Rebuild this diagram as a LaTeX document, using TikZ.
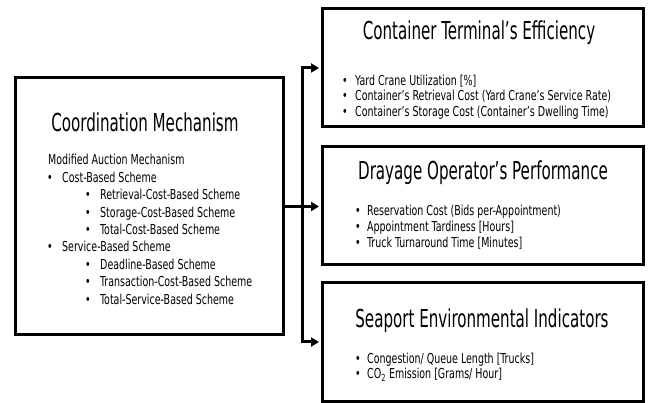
\documentclass[tikz,border=0pt]{standalone}
\usepackage{fontspec}
\setmainfont[FakeStretch=0.77]{DejaVu Sans Condensed}
\newfontfamily\titlefont[FakeStretch=0.68]{DejaVu Sans Condensed}
\usetikzlibrary{arrows.meta}
\begin{document}
\begin{tikzpicture}[x=1pt,y=1pt,
  box/.style={draw, line width=3pt, inner sep=0pt},
  conn/.style={line width=3pt, line join=miter, shorten >=1.5pt, -{Triangle[length=8pt,width=9pt]}},
  ttl/.style={font=\titlefont\fontsize{24.7}{25}\selectfont, anchor=base, inner sep=0pt},
  itm/.style={font=\fontsize{13.7}{15}\selectfont, anchor=base west, inner sep=0pt},
  bul/.style={font=\fontsize{13.7}{15}\selectfont, anchor=base, inner sep=0pt}]
\useasboundingbox (0,0) rectangle (650,403);
% boxes
\node[box, minimum width=268pt, minimum height=257pt] (L) at (149,196.5) {};
\node[box, minimum width=321pt, minimum height=118pt] (T) at (482.5,335) {};
\node[box, minimum width=321pt, minimum height=118pt] (M) at (482.5,197) {};
\node[box, minimum width=321pt, minimum height=119pt] (B) at (482.5,61) {};
% connectors
\coordinate (J) at (302,196.5);
\draw[conn] (L.east) -- (L.east -| M.west);
\draw[conn] (J) |- (T.west);
\draw[conn] (J) |- (B.west);
% left box
\node[ttl] (Lt) at (145,271.3) {Coordination Mechanism};
\node[itm] (l0) at (48,238) {Modified Auction Mechanism};
\node[bul] (b1) at (50,220.6) {\textbullet};
\node[itm] (l1) at (62,220.6) {Cost-Based Scheme};
\node[bul] (b2) at (88,203.2) {\textbullet};
\node[itm] (l2) at (100,203.2) {Retrieval-Cost-Based Scheme};
\node[bul] (b3) at (88,185.8) {\textbullet};
\node[itm] (l3) at (100,185.8) {Storage-Cost-Based Scheme};
\node[bul] (b4) at (88,168.4) {\textbullet};
\node[itm] (l4) at (100,168.4) {Total-Cost-Based Scheme};
\node[bul] (b5) at (50,151) {\textbullet};
\node[itm] (l5) at (62,151) {Service-Based Scheme};
\node[bul] (b6) at (88,133.6) {\textbullet};
\node[itm] (l6) at (100,133.6) {Deadline-Based Scheme};
\node[bul] (b7) at (88,116.2) {\textbullet};
\node[itm] (l7) at (100,116.2) {Transaction-Cost-Based Scheme};
\node[bul] (b8) at (88,98.8) {\textbullet};
\node[itm] (l8) at (100,98.8) {Total-Service-Based Scheme};
% top box
\node[ttl] (Tt) at (479,363.7) {Container Terminal’s Efficiency};
\node[bul] (tb1) at (345,317.5) {\textbullet};
\node[itm] (t1) at (355,317.5) {Yard Crane Utilization [\%]};
\node[bul] (tb2) at (345,302) {\textbullet};
\node[itm] (t2) at (355,302) {Container’s Retrieval Cost (Yard Crane’s Service Rate)};
\node[bul] (tb3) at (345,286) {\textbullet};
\node[itm] (t3) at (355,286) {Container’s Storage Cost (Container’s Dwelling Time)};
% middle box
\node[ttl] (Mt) at (483,223) {Drayage Operator’s Performance};
\node[bul] (mb1) at (358,187) {\textbullet};
\node[itm] (m1) at (367,187) {Reservation Cost (Bids per-Appointment)};
\node[bul] (mb2) at (358,171.5) {\textbullet};
\node[itm] (m2) at (367,171.5) {Appointment Tardiness [Hours]};
\node[bul] (mb3) at (358,155.5) {\textbullet};
\node[itm] (m3) at (367,155.5) {Truck Turnaround Time [Minutes]};
% bottom box
\node[ttl] (Bt) at (482,75) {Seaport Environmental Indicators};
\node[bul] (bb1) at (358,39.5) {\textbullet};
\node[itm] (s1) at (367,39.5) {Congestion/ Queue Length [Trucks]};
\node[bul] (bb2) at (358,24) {\textbullet};
\node[itm] (s2) at (367,24) {CO\textsubscript{2} Emission [Grams/ Hour]};
\end{tikzpicture}
\end{document}
